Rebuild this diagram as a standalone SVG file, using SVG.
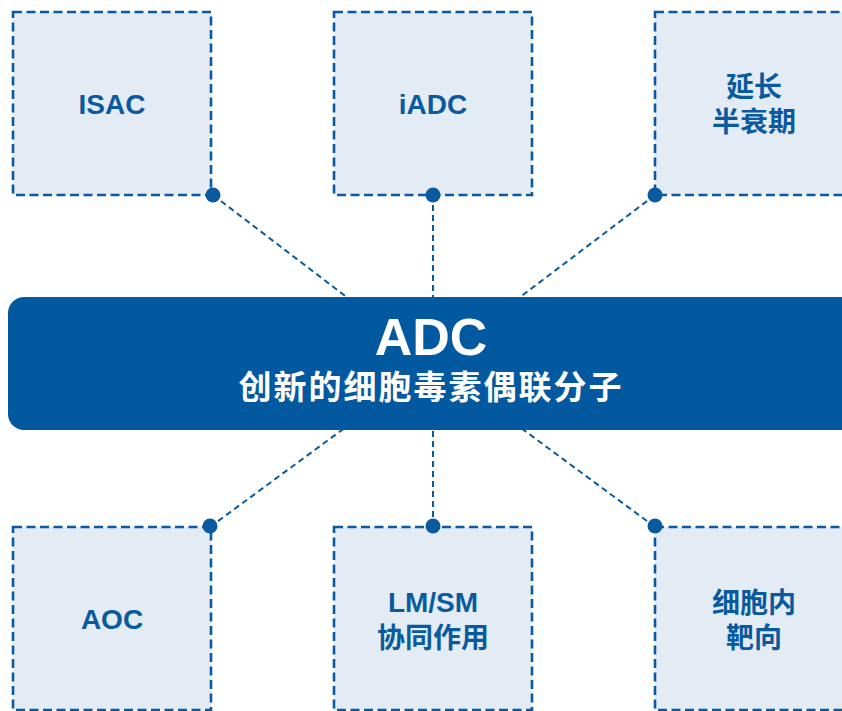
<svg xmlns="http://www.w3.org/2000/svg" width="842" height="711" viewBox="0 0 842 711">
<style>
.box{fill:#E3ECF4;stroke:#0A5AA0;stroke-width:2.6;stroke-dasharray:9 4.5}
.lbl{fill:#0A5AA0;font-family:"Liberation Sans","Noto Sans CJK SC",sans-serif;font-weight:bold;text-anchor:middle}
.cjk{fill:#0A5AA0;font-family:"Noto Sans CJK SC",sans-serif;font-weight:bold;text-anchor:middle}
.conn{stroke:#0A5AA0;stroke-width:2;stroke-dasharray:6 4;fill:none}
.dot{fill:#0A5AA0}
</style>
<rect width="842" height="711" fill="#fff"/>
<g id="connectors">
<line class="conn" x1="213" y1="195" x2="433" y2="363"/>
<line class="conn" x1="433" y1="195" x2="433" y2="363"/>
<line class="conn" x1="655" y1="195" x2="433" y2="363"/>
<line class="conn" x1="210" y1="527" x2="433" y2="363"/>
<line class="conn" x1="433" y1="527" x2="433" y2="363"/>
<line class="conn" x1="655" y1="527" x2="433" y2="363"/>
</g>
<g id="adc">
<rect x="8" y="297" width="850" height="133" rx="16" fill="#03599F"/>
<text x="431" y="355" font-family="Liberation Sans,sans-serif" font-weight="bold" font-size="52" fill="#fff" text-anchor="middle">ADC</text>
<text x="431" y="399" font-family="Noto Sans CJK SC,sans-serif" font-weight="bold" font-size="33" letter-spacing="2" fill="#fff" text-anchor="middle">创新的细胞毒素偶联分子</text>
</g>
<g id="isac">
<rect class="box" x="13" y="12" width="198" height="183"/>
<text class="lbl" x="112" y="114" font-size="28">ISAC</text>
</g>
<g id="iadc">
<rect class="box" x="334" y="12" width="198" height="183"/>
<text class="lbl" x="433" y="114" font-size="28">iADC</text>
</g>
<g id="halflife">
<rect class="box" x="655" y="12" width="198" height="183"/>
<text class="cjk" x="754" y="97" font-size="28">延长</text>
<text class="cjk" x="754" y="132" font-size="28">半衰期</text>
</g>
<g id="aoc">
<rect class="box" x="13" y="527" width="198" height="183"/>
<text class="lbl" x="112" y="629" font-size="28">AOC</text>
</g>
<g id="lmsm">
<rect class="box" x="334" y="527" width="198" height="183"/>
<text class="lbl" x="433" y="612" font-size="28">LM/SM</text>
<text class="cjk" x="433" y="648" font-size="28">协同作用</text>
</g>
<g id="intracellular">
<rect class="box" x="655" y="527" width="198" height="183"/>
<text class="cjk" x="754" y="613" font-size="28">细胞内</text>
<text class="cjk" x="754" y="648" font-size="28">靶向</text>
</g>
<g id="dots">
<circle class="dot" cx="213" cy="195" r="7.5"/>
<circle class="dot" cx="433" cy="195" r="7.5"/>
<circle class="dot" cx="655" cy="195" r="7.5"/>
<circle class="dot" cx="210" cy="526" r="7.5"/>
<circle class="dot" cx="433" cy="526" r="7.5"/>
<circle class="dot" cx="655" cy="526" r="7.5"/>
</g>
</svg>
